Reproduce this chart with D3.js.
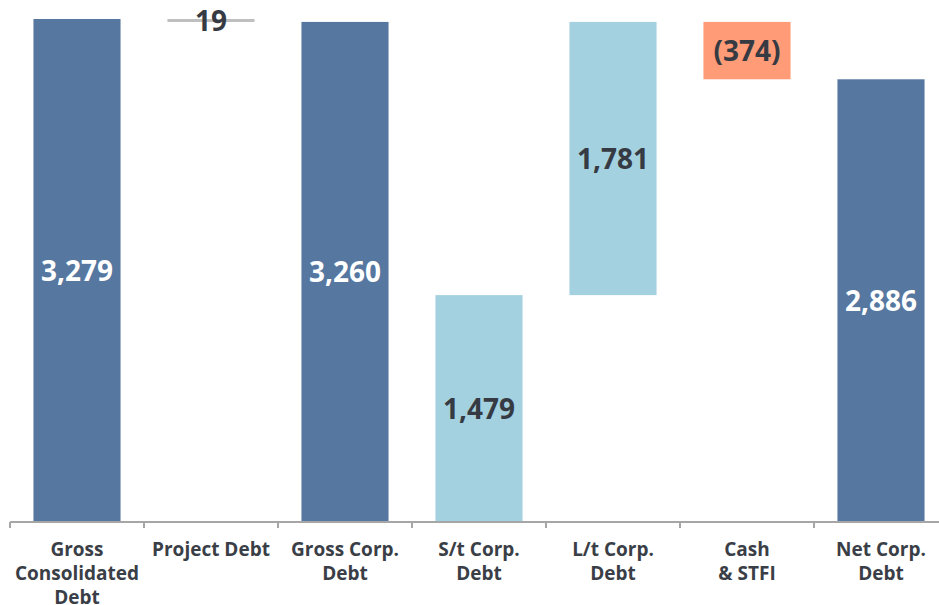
<!DOCTYPE html>
<html>
<head>
<meta charset="utf-8">
<script src="https://cdn.jsdelivr.net/npm/d3@7"></script>
<style>
  body { margin: 0; background: #fff; }
</style>
</head>
<body>
<div id="chart"></div>
<script>
// categories and waterfall values
const categories = ["Gross Consolidated Debt", "Project Debt", "Gross Corp. Debt", "S/t Corp. Debt", "L/t Corp. Debt", "Cash & STFI", "Net Corp. Debt"];
const catLines = [["Gross", "Consolidated", "Debt"], ["Project Debt"], ["Gross Corp.", "Debt"], ["S/t Corp.", "Debt"], ["L/t Corp.", "Debt"], ["Cash", "& STFI"], ["Net Corp.", "Debt"]];
const starts = [0, 3260, 0, 0, 1479, 2886, 0];
const ends = [3279, 3279, 3260, 1479, 3260, 3260, 2886];
const labels = ["3,279", "19", "3,260", "1,479", "1,781", "(374)", "2,886"];
const kinds = ["total", "minor", "total", "part", "part", "neg", "total"];

const fills = { total: "#56779f", minor: "#bfbfbf", part: "#a3d1e0", neg: "#ff9b76" };
const textCol = { total: "#ffffff", minor: "#363a42", part: "#363a42", neg: "#363a42" };

const W = 939, H = 605;
const svg = d3.select("#chart").append("svg")
	.attr("width", W)
	.attr("height", H)
	.style("font-family", "'Open Sans', sans-serif");

const x = d3.scaleBand()
	.domain(categories)
	.range([10, 948])
	.paddingInner(0.35)
	.paddingOuter(0.175);

const y = d3.scaleLinear()
	.domain([0, 3279])
	.range([522, 19]);

const data = categories.map((c, i) => ({ c, s: starts[i], e: ends[i], label: labels[i], kind: kinds[i], lines: catLines[i] }));

// bars
svg.selectAll("rect.bar")
	.data(data)
	.enter()
	.append("rect")
	.attr("class", "bar")
	.attr("x", d => x(d.c))
	.attr("width", x.bandwidth())
	.attr("y", d => y(Math.max(d.s, d.e)))
	.attr("height", d => Math.max(3, Math.abs(y(d.s) - y(d.e))))
	.attr("fill", d => fills[d.kind]);

// value labels
svg.selectAll("text.val")
	.data(data)
	.enter()
	.append("text")
	.attr("class", "val")
	.attr("x", d => x(d.c) + x.bandwidth() / 2)
	.attr("y", d => (y(d.s) + y(d.e)) / 2)
	.attr("dy", "0.36em")
	.attr("text-anchor", "middle")
	.attr("font-size", 28)
	.attr("font-weight", "bold")
	.attr("fill", d => textCol[d.kind])
	.text(d => d.label);

// x axis
const xAxis = svg.append("g")
	.attr("transform", "translate(0,522)")
	.call(d3.axisBottom(x).tickSize(0).tickFormat(""));
xAxis.select(".domain").attr("stroke", "#a6a6a6").attr("stroke-width", 2)
	.attr("d", "M10,0H939");

// boundary ticks
const step = x.step();
const bounds = d3.range(categories.length).map(i => 10 + i * step);
xAxis.selectAll("line.bound")
	.data(bounds)
	.enter()
	.append("line")
	.attr("class", "bound")
	.attr("x1", d => d).attr("x2", d => d)
	.attr("y1", 0).attr("y2", 6)
	.attr("stroke", "#a6a6a6")
	.attr("stroke-width", 2);

// category labels
const cat = svg.selectAll("text.cat")
	.data(data)
	.enter()
	.append("text")
	.attr("class", "cat")
	.attr("text-anchor", "middle")
	.attr("font-size", 19)
	.attr("font-weight", "bold")
	.attr("fill", "#3a3e46");
cat.selectAll("tspan")
	.data(d => d.lines.map(l => ({ l, cx: x(d.c) + x.bandwidth() / 2 })))
	.enter()
	.append("tspan")
	.attr("x", d => d.cx)
	.attr("y", (d, i) => 556 + i * 24)
	.text(d => d.l);
</script>
</body>
</html>
